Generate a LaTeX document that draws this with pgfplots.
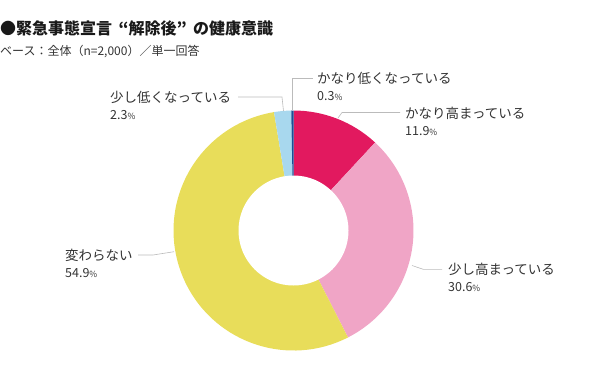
\documentclass[border=0pt]{standalone}
\usepackage{pgfplots}
\usepackage{pgfplotstable}
\pgfplotsset{compat=1.18}
\usepackage{fontspec}
\newfontfamily\jp{Noto Sans CJK JP}
\definecolor{cRed}{HTML}{E2195F}
\definecolor{cPink}{HTML}{F0A5C6}
\definecolor{cYellow}{HTML}{E8DD5A}
\definecolor{cLBlue}{HTML}{A8D8EE}
\definecolor{cDBlue}{HTML}{1A5096}
\definecolor{cLine}{HTML}{BBBBBB}
\definecolor{cText}{HTML}{333333}

\pgfplotstableread[col sep=comma]{
value,color
11.9,cRed
30.6,cPink
54.9,cYellow
2.3,cLBlue
0.3,cDBlue
}\piedata

\newcommand{\pct}[1]{{\fontsize{12.5}{14}\selectfont #1}{\fontsize{8.5}{10}\selectfont\%}}

\begin{document}
\begin{tikzpicture}
\begin{axis}[
  x=1pt, y=1pt,
  xmin=0, xmax=600, ymin=0, ymax=373,
  y dir=reverse,
  hide axis, clip=false,
  scale only axis,
]
\path (axis cs:0,0) rectangle (axis cs:600,373);
\pgfplotsextra{%
  \pgfplotstablegetrowsof{\piedata}%
  \pgfmathtruncatemacro\N{\pgfplotsretval-1}%
  \xdef\cum{90}%
  \foreach \i in {0,...,\N}{%
    \pgfplotstablegetelem{\i}{value}\of\piedata \let\v\pgfplotsretval
    \pgfplotstablegetelem{\i}{color}\of\piedata \let\c\pgfplotsretval
    \pgfmathsetmacro\a{\cum}%
    \pgfmathsetmacro\b{\cum-3.6*\v}%
    \fill[fill=\c] (axis cs:293.5,230.5) -- ++(\a:120pt) arc[start angle=\a, end angle=\b, radius=120pt] -- cycle;
    \xdef\cum{\b}%
  }%
  \fill[white] (axis cs:293.5,230.5) circle[radius=55pt];
}
% leader lines
\draw[cLine, line width=0.6pt] (axis cs:292.3,110) -- (axis cs:292.3,78) -- (axis cs:313,78);
\draw[cLine, line width=0.6pt] (axis cs:338,118) -- (axis cs:342,112.5) -- (axis cs:400,112.5);
\draw[cLine, line width=0.6pt] (axis cs:412,265.5) -- (axis cs:423.3,269.3) -- (axis cs:442,269.3);
\draw[cLine, line width=0.6pt] (axis cs:174,251.7) -- (axis cs:153,255) -- (axis cs:138,255);
\draw[cLine, line width=0.6pt] (axis cs:283.5,111) -- (axis cs:282,97) -- (axis cs:238,97);
% labels
\node[anchor=west, inner sep=0pt, text=cText, font=\jp\fontsize{13.5}{15}\selectfont] at (axis cs:317,78) {かなり低くなっている};
\node[anchor=west, inner sep=0pt, text=cText, font=\jp] at (axis cs:317,96) {\pct{0.3}};
\node[anchor=west, inner sep=0pt, text=cText, font=\jp\fontsize{13.5}{15}\selectfont] at (axis cs:405,113) {かなり高まっている};
\node[anchor=west, inner sep=0pt, text=cText, font=\jp] at (axis cs:405,131) {\pct{11.9}};
\node[anchor=west, inner sep=0pt, text=cText, font=\jp\fontsize{13.5}{15}\selectfont] at (axis cs:448,269) {少し高まっている};
\node[anchor=west, inner sep=0pt, text=cText, font=\jp] at (axis cs:448,287) {\pct{30.6}};
\node[anchor=west, inner sep=0pt, text=cText, font=\jp\fontsize{13.5}{15}\selectfont] at (axis cs:65,255) {変わらない};
\node[anchor=west, inner sep=0pt, text=cText, font=\jp] at (axis cs:65,273) {\pct{54.9}};
\node[anchor=west, inner sep=0pt, text=cText, font=\jp\fontsize{13.5}{15}\selectfont] at (axis cs:110,97) {少し低くなっている};
\node[anchor=west, inner sep=0pt, text=cText, font=\jp] at (axis cs:110,115) {\pct{2.3}};
% title
\node[anchor=west, inner sep=0pt, text=black!90, font=\jp\bfseries\fontsize{16}{18}\selectfont] at (axis cs:0,28) {●緊急事態宣言\hspace{0.4em}“解除後”\hspace{0.4em}の健康意識};
\node[anchor=west, inner sep=0pt, text=cText, font=\jp\fontsize{12}{14}\selectfont] at (axis cs:0,51) {ベース：全体（n=2,000）／単一回答};
\end{axis}
\end{tikzpicture}
\end{document}
